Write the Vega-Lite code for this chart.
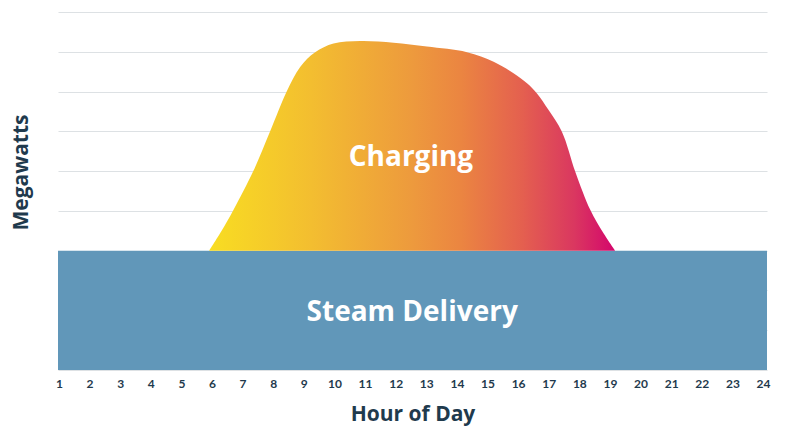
{
  "$schema": "https://vega.github.io/schema/vega-lite/v6.json",
  "width": 709,
  "height": 358,
  "autosize": {"type": "none"},
  "padding": {"left": 58, "top": 12, "right": 18, "bottom": 58},
  "background": "white",
  "config": {
    "view": {"stroke": null},
    "font": "Lato",
    "axisX": {
      "values": [1,2,3,4,5,6,7,8,9,10,11,12,13,14,15,16,17,18,19,20,21,22,23,24],
      "tickCount": 24,
      "grid": false, "ticks": false, "domain": false,
      "labelOverlap": false, "labelFlush": false,
      "labelFont": "Lato", "labelFontSize": 12, "labelFontWeight": "bold",
      "labelColor": "#1F3A4D", "labelPadding": 8,
      "titleFont": "Open Sans", "titleFontSize": 21, "titleFontWeight": "bold",
      "titleColor": "#1F3A4D", "titlePadding": 14
    },
    "axisY": {
      "values": [0,1,2,3,4,5,6,7,8,9],
      "tickCount": 9,
      "grid": true, "gridColor": "#DDE1E4", "gridWidth": 1.2,
      "labels": false, "ticks": false, "domain": false, "labelOverlap": false,
      "titleFont": "Open Sans", "titleFontSize": 21, "titleFontWeight": "bold",
      "titleColor": "#1F3A4D", "titleY": 160, "titleX": -27
    }
  },
  "datasets": {
    "charging": [
      {"hour": 5.91, "mw": 3.0},
      {"hour": 6.3, "mw": 3.48},
      {"hour": 6.70, "mw": 4.02},
      {"hour": 7.35, "mw": 5.0},
      {"hour": 7.90, "mw": 6.0},
      {"hour": 8.44, "mw": 7.0},
      {"hour": 8.88, "mw": 7.62},
      {"hour": 9.37, "mw": 7.99},
      {"hour": 9.97, "mw": 8.21},
      {"hour": 10.84, "mw": 8.27},
      {"hour": 11.93, "mw": 8.23},
      {"hour": 13.02, "mw": 8.13},
      {"hour": 14.33, "mw": 7.99},
      {"hour": 15.20, "mw": 7.75},
      {"hour": 15.85, "mw": 7.46},
      {"hour": 16.29, "mw": 7.21},
      {"hour": 16.61, "mw": 6.96},
      {"hour": 16.99, "mw": 6.54},
      {"hour": 17.43, "mw": 5.99},
      {"hour": 17.87, "mw": 4.98},
      {"hour": 18.36, "mw": 4.02},
      {"hour": 18.78, "mw": 3.45},
      {"hour": 19.17, "mw": 3.0}
    ],
    "steam": [
      {"start": 0.97, "end": 24.13, "low": 0, "high": 3}
    ],
    "labels": [
      {"label": "Charging", "hour": 12.5, "mw": 5.34},
      {"label": "Steam Delivery", "hour": 12.54, "mw": 1.44}
    ]
  },
  "layer": [
    {
      "data": {"name": "steam"},
      "mark": {"type": "rect", "color": "#6197B9"},
      "encoding": {
        "x": {
          "field": "start", "type": "quantitative",
          "scale": {"domain": [0.97, 24.13], "nice": false, "zero": false},
          "axis": {"title": "Hour of Day"}
        },
        "x2": {"field": "end"},
        "y": {
          "field": "low", "type": "quantitative",
          "scale": {"domain": [0, 9], "nice": false},
          "axis": {"title": "Megawatts"}
        },
        "y2": {"field": "high"}
      }
    },
    {
      "data": {"name": "charging"},
      "mark": {
        "type": "area",
        "interpolate": "catmull-rom",
        "color": {
          "gradient": "linear", "x1": 0, "x2": 1, "y1": 0, "y2": 0,
          "stops": [
            {"offset": 0, "color": "#F8DD22"},
            {"offset": 0.25, "color": "#F3BE30"},
            {"offset": 0.5, "color": "#ED9A3D"},
            {"offset": 0.62, "color": "#EB8541"},
            {"offset": 0.77, "color": "#E4604F"},
            {"offset": 0.9, "color": "#DA3760"},
            {"offset": 1, "color": "#D4066C"}
          ]
        }
      },
      "encoding": {
        "x": {"field": "hour", "type": "quantitative", "axis": {"title": "Hour of Day"}},
        "y": {"field": "mw", "type": "quantitative", "axis": {"title": "Megawatts"}},
        "y2": {"datum": 3}
      }
    },
    {
      "data": {"name": "labels"},
      "mark": {"type": "text", "color": "white", "font": "Open Sans", "fontSize": 28, "fontWeight": "bold", "align": "center", "baseline": "middle"},
      "encoding": {
        "x": {"field": "hour", "type": "quantitative", "axis": {"title": "Hour of Day"}},
        "y": {"field": "mw", "type": "quantitative", "axis": {"title": "Megawatts"}},
        "text": {"field": "label"}
      }
    }
  ]
}
